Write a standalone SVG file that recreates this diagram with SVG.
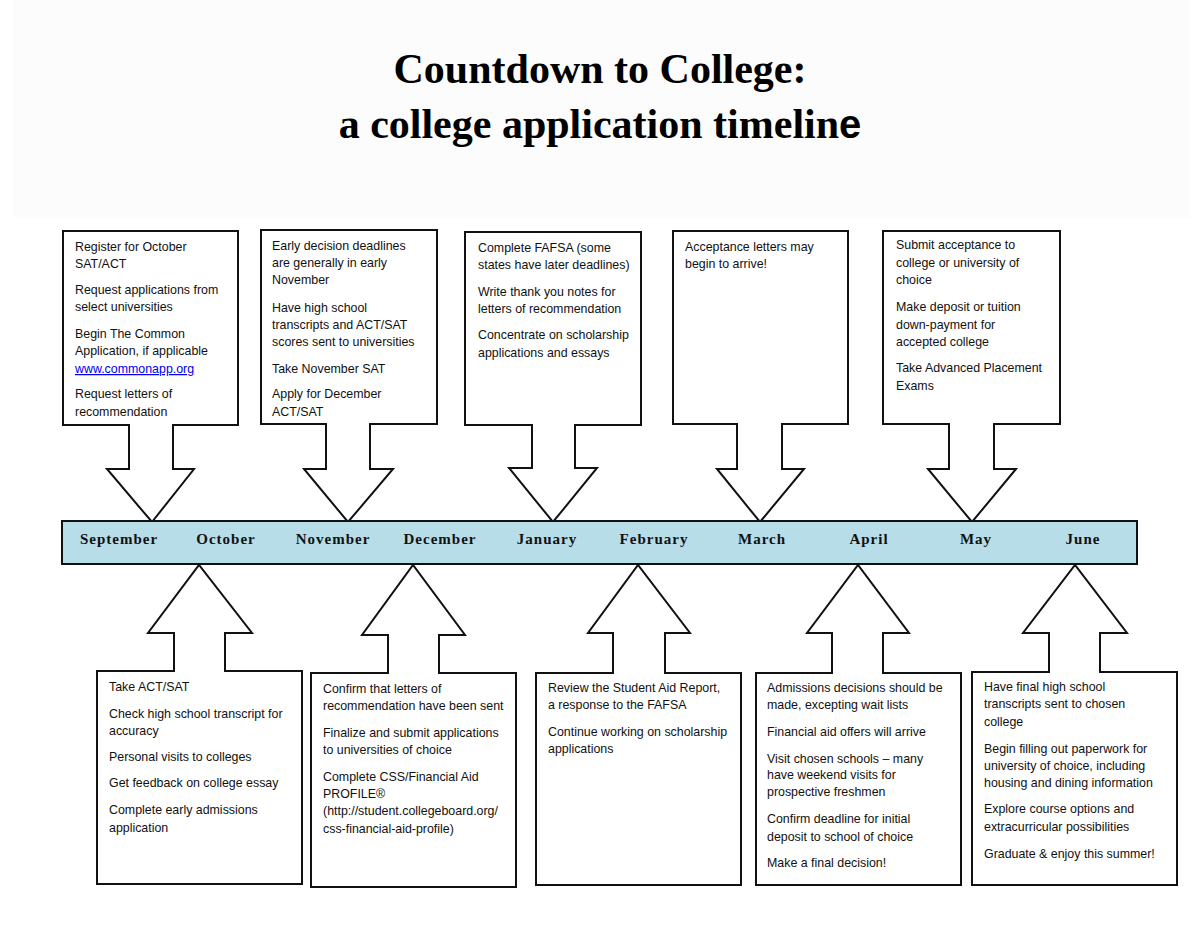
<svg xmlns="http://www.w3.org/2000/svg" width="1200" height="927" viewBox="0 0 1200 927">
<style>
.box{fill:#fff;stroke:#111;stroke-width:2}
.arr{fill:#fff;stroke:#111;stroke-width:2;stroke-linejoin:miter}
.t{font-family:"Liberation Sans",Arial,sans-serif;font-size:12.4px;fill:#111}
.m{font-family:"Liberation Serif","Times New Roman",serif;font-size:15px;font-weight:bold;letter-spacing:1px;fill:#111;text-anchor:middle}
.title{font-family:"Liberation Serif","Times New Roman",serif;font-size:42px;font-weight:bold;fill:#000;text-anchor:middle}
.link{fill:#0000ee;text-decoration:underline}
</style>
<rect x="0" y="0" width="1200" height="927" fill="#fff"/>
<rect x="14" y="0" width="1176" height="218" fill="#fcfcfc"/>
<g id="title">
<text class="title" x="600" y="83">Countdown to College:</text>
<text class="title" x="600" y="138">a college application timelin<tspan font-family="Liberation Sans,Arial,sans-serif" font-size="40px">e</tspan></text>
</g>

<g id="sep-box"><rect class="box" x="63" y="231" width="175" height="194"/>
<text class="t"><tspan x="75" y="251">Register for October</tspan><tspan x="75" y="268">SAT/ACT</tspan><tspan x="75" y="294">Request applications from</tspan><tspan x="75" y="311">select universities</tspan><tspan x="75" y="338">Begin The Common</tspan><tspan x="75" y="355">Application, if applicable</tspan><tspan x="75" y="373" class="link">www.commonapp.org</tspan><tspan x="75" y="398">Request letters of</tspan><tspan x="75" y="416">recommendation</tspan></text></g>

<g id="nov-box"><rect class="box" x="261" y="230" width="176" height="194"/>
<text class="t"><tspan x="272" y="250">Early decision deadlines</tspan><tspan x="272" y="267">are generally in early</tspan><tspan x="272" y="284">November</tspan><tspan x="272" y="312">Have high school</tspan><tspan x="272" y="329">transcripts and ACT/SAT</tspan><tspan x="272" y="346">scores sent to universities</tspan><tspan x="272" y="373">Take November SAT</tspan><tspan x="272" y="398">Apply for December</tspan><tspan x="272" y="416">ACT/SAT</tspan></text></g>

<g id="jan-box"><rect class="box" x="465" y="232" width="176" height="193"/>
<text class="t"><tspan x="478" y="252">Complete FAFSA (some</tspan><tspan x="478" y="269">states have later deadlines)</tspan><tspan x="478" y="296">Write thank you notes for</tspan><tspan x="478" y="313">letters of recommendation</tspan><tspan x="478" y="339">Concentrate on scholarship</tspan><tspan x="478" y="357">applications and essays</tspan></text></g>

<g id="mar-box"><rect class="box" x="673" y="231" width="175" height="193"/>
<text class="t"><tspan x="685" y="251">Acceptance letters may</tspan><tspan x="685" y="268">begin to arrive!</tspan></text></g>

<g id="may-box"><rect class="box" x="883" y="231" width="177" height="193"/>
<text class="t"><tspan x="896" y="249">Submit acceptance to</tspan><tspan x="896" y="267">college or university of</tspan><tspan x="896" y="284">choice</tspan><tspan x="896" y="311">Make deposit or tuition</tspan><tspan x="896" y="329">down-payment for</tspan><tspan x="896" y="346">accepted college</tspan><tspan x="896" y="372">Take Advanced Placement</tspan><tspan x="896" y="390">Exams</tspan></text></g>

<g id="oct-box"><rect class="box" x="97" y="671" width="205" height="213"/>
<text class="t"><tspan x="109" y="691">Take ACT/SAT</tspan><tspan x="109" y="718">Check high school transcript for</tspan><tspan x="109" y="735">accuracy</tspan><tspan x="109" y="761">Personal visits to colleges</tspan><tspan x="109" y="787">Get feedback on college essay</tspan><tspan x="109" y="814">Complete early admissions</tspan><tspan x="109" y="832">application</tspan></text></g>

<g id="dec-box"><rect class="box" x="311" y="673" width="205" height="214"/>
<text class="t"><tspan x="323" y="693">Confirm that letters of</tspan><tspan x="323" y="710">recommendation have been sent</tspan><tspan x="323" y="737">Finalize and submit applications</tspan><tspan x="323" y="754">to universities of choice</tspan><tspan x="323" y="781">Complete CSS/Financial Aid</tspan><tspan x="323" y="798">PROFILE®</tspan><tspan x="323" y="815">(http://student.collegeboard.org/</tspan><tspan x="323" y="833">css-financial-aid-profile)</tspan></text></g>

<g id="feb-box"><rect class="box" x="536" y="673" width="205" height="212"/>
<text class="t"><tspan x="548" y="692">Review the Student Aid Report,</tspan><tspan x="548" y="709">a response to the FAFSA</tspan><tspan x="548" y="736">Continue working on scholarship</tspan><tspan x="548" y="753">applications</tspan></text></g>

<g id="apr-box"><rect class="box" x="756" y="673" width="205" height="212"/>
<text class="t"><tspan x="767" y="692">Admissions decisions should be</tspan><tspan x="767" y="709">made, excepting wait lists</tspan><tspan x="767" y="736">Financial aid offers will arrive</tspan><tspan x="767" y="763">Visit chosen schools – many</tspan><tspan x="767" y="779">have weekend visits for</tspan><tspan x="767" y="796">prospective freshmen</tspan><tspan x="767" y="823">Confirm deadline for initial</tspan><tspan x="767" y="841">deposit to school of choice</tspan><tspan x="767" y="867">Make a final decision!</tspan></text></g>

<g id="jun-box"><rect class="box" x="972" y="672" width="205" height="213"/>
<text class="t"><tspan x="984" y="691">Have final high school</tspan><tspan x="984" y="708">transcripts sent to chosen</tspan><tspan x="984" y="726">college</tspan><tspan x="984" y="753">Begin filling out paperwork for</tspan><tspan x="984" y="770">university of choice, including</tspan><tspan x="984" y="787">housing and dining information</tspan><tspan x="984" y="813">Explore course options and</tspan><tspan x="984" y="831">extracurricular possibilities</tspan><tspan x="984" y="858">Graduate &amp; enjoy this summer!</tspan></text></g>

<g id="connectors">
<path class="arr" d="M129,424 L129,469 L107,469 L152,522 L194,469 L173,469 L173,424"/>
<path class="arr" d="M326,423 L326,469 L304,469 L348,522 L393,469 L370,469 L370,423"/>
<path class="arr" d="M532,424 L532,468 L509,468 L553,522 L597,468 L575,468 L575,424"/>
<path class="arr" d="M737,423 L737,469 L717,469 L760,522 L804,469 L782,469 L782,423"/>
<path class="arr" d="M949,423 L949,469 L928,469 L972,522 L1016,469 L994,469 L994,423"/>
<path class="arr" d="M174,672 L174,633 L148,633 L199,565 L252,633 L225,633 L225,672"/>
<path class="arr" d="M388,674 L388,635 L362,635 L413,565 L465,635 L439,635 L439,674"/>
<path class="arr" d="M613,674 L613,633 L588,633 L638,565 L690,633 L665,633 L665,674"/>
<path class="arr" d="M832,674 L832,633 L807,633 L858,565 L909,633 L883,633 L883,674"/>
<path class="arr" d="M1049,673 L1049,633 L1023,633 L1075,565 L1127,633 L1100,633 L1100,673"/>
</g>

<g id="timeline">
<rect x="62" y="521" width="1075" height="43" fill="#b7dde8" stroke="#111" stroke-width="2"/>
<text class="m" x="119" y="544">September</text>
<text class="m" x="226" y="544">October</text>
<text class="m" x="333" y="544">November</text>
<text class="m" x="440" y="544">December</text>
<text class="m" x="547" y="544">January</text>
<text class="m" x="654" y="544">February</text>
<text class="m" x="762" y="544">March</text>
<text class="m" x="869" y="544">April</text>
<text class="m" x="976" y="544">May</text>
<text class="m" x="1083" y="544">June</text>
</g>
</svg>
